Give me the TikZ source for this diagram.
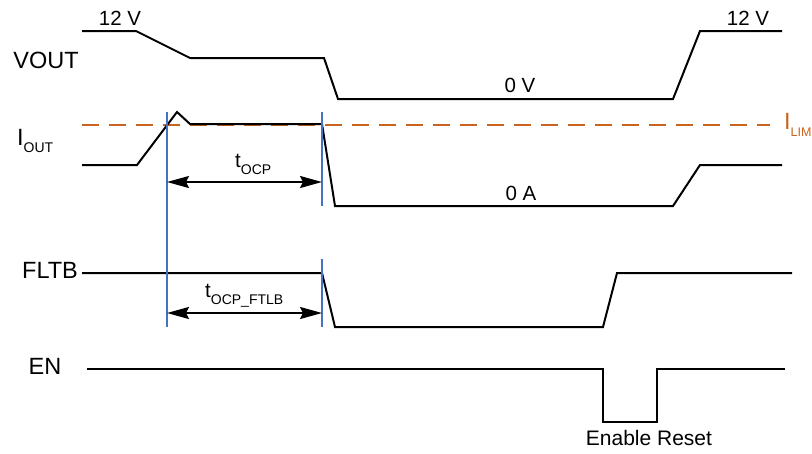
\documentclass[tikz,border=0pt]{standalone}
\usepackage{fontspec}
\setmainfont{Liberation Sans}
\usetikzlibrary{arrows.meta}

\definecolor{limorange}{RGB}{200,100,30}
\definecolor{markblue}{RGB}{68,114,196}

\newcommand{\subtxt}[2][14]{\raisebox{-7pt}{\fontsize{#1}{#1}\selectfont #2}}

\tikzset{
	wave/.style={line width=2pt, line join=miter},
	marker/.style={draw=markblue, line width=1.2pt},
	span/.style={line width=2pt, {Stealth[length=22pt,width=12pt,inset=3pt]}-{Stealth[length=22pt,width=12pt,inset=3pt]}},
	siglabel/.style={font=\fontsize{23.5}{23.5}\selectfont},
	annot/.style={font=\fontsize{20.5}{20.5}\selectfont},
}

\begin{document}
\begin{tikzpicture}[x=1pt, y=-1pt]
	\useasboundingbox (0,0) rectangle (812,453);
	
	% signal names
	\node[siglabel] (vout) at (46,60) {VOUT};
	\node[siglabel, anchor=base west, inner sep=0pt] (iout) at (17,145) {I\subtxt{OUT}};
	\node[siglabel] (fltb) at (50,270) {FLTB};
	\node[siglabel] (en) at (45,366) {EN};
	
	% current limit
	\draw[limorange, line width=2.5pt, dash pattern=on 17pt off 10pt] (82,125) -- (770,125);
	\node[limorange, siglabel, anchor=base west, inner sep=0pt] (ilim) at (784,129) {I\subtxt[12.5]{LIM}};
	
	% VOUT
	\draw[wave] (82,31) -- (136,31) -- (190,58) -- (324,58) -- (338,99)
		-- (673,99) -- (700,31) -- (782,31);
	\node[annot] (v12a) at (120,18) {12 V};
	\node[annot] (v12b) at (748,18) {12 V};
	\node[annot] (v0) at (520,85) {0 V};
	
	% IOUT
	\draw[wave] (82,165) -- (137,165) -- (177,112) -- (190,124) -- (322,124) -- (335,206)
		-- (673,206) -- (700,165) -- (782,165);
	\node[annot] (a0) at (521,193) {0 A};
	
	% FLTB
	\draw[wave] (82,273) -- (322,273) -- (335,327) -- (603,327) -- (617,273) -- (792,273);
	
	% EN
	\draw[wave] (87,369) -- (603,369) -- (603,422) -- (657,422) -- (657,369) -- (785,369);
	\node[font=\fontsize{21}{21}\selectfont] (reset) at (649,438) {Enable Reset};
	
	% timing markers
	\coordinate (m1top) at (167,112);
	\coordinate (m1bot) at (167,327);
	\coordinate (m2top) at (322,112);
	\coordinate (m2mid) at (322,206);
	\coordinate (m2low) at (322,259);
	\coordinate (m2bot) at (322,327);
	\draw[marker] (m1top) -- (m1bot);
	\draw[marker] (m2top) -- (m2mid);
	\draw[marker] (m2low) -- (m2bot);
	
	\coordinate (ocpL) at (167,182);
	\coordinate (ocpR) at (322,182);
	\draw[span] (ocpL) -- (ocpR);
	\node[annot, anchor=base west, inner sep=0pt] (tocp) at (235,167) {t\subtxt{OCP}};
	
	\coordinate (fltL) at (167,313);
	\coordinate (fltR) at (322,313);
	\draw[span] (fltL) -- (fltR);
	\node[annot, anchor=base west, inner sep=0pt] (tfltb) at (205,297) {t\subtxt{OCP\_FTLB}};
\end{tikzpicture}
\end{document}
